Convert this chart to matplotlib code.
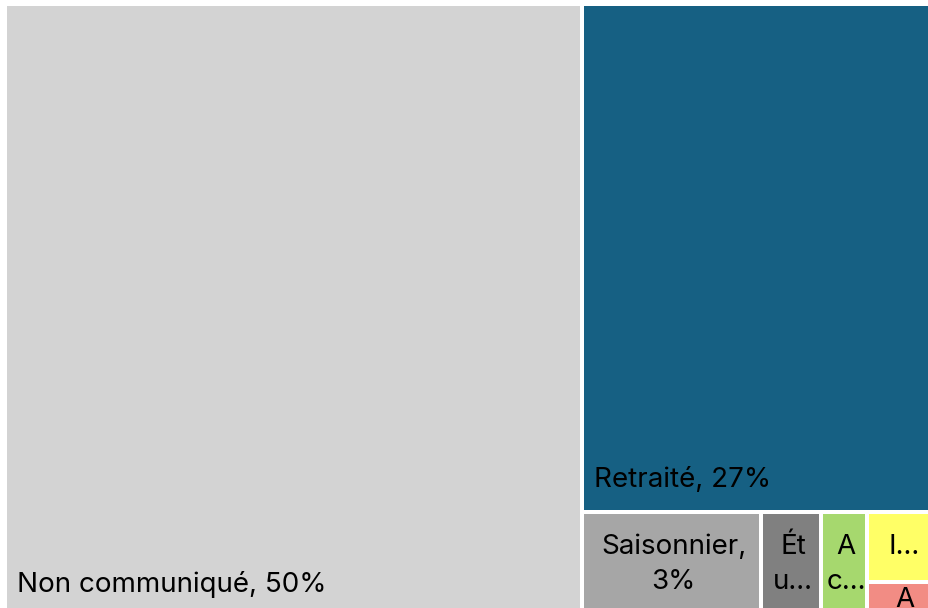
import matplotlib.pyplot as plt
from matplotlib.patches import Rectangle

# Treemap data (area weights, labels as shown)
categories = ["Non communiqué", "Retraité", "Saisonnier", "Étudiant", "Actif", "Inactif", "Autre"]
weights = [61.84, 31.62, 3.29, 1.10, 0.85, 0.87, 0.43]
labels = ["Non communiqué, 50%", "Retraité, 27%", "Saisonnier,\n3%", "Ét\nu...", "A\nc...", "I...", "A"]
colors = ["#D3D3D3", "#166083", "#A6A6A6", "#808080", "#A6D86E", "#FFFF66", "#F28C84"]

plt.rcParams['font.family'] = ['Inter', 'DejaVu Sans']


def strip_layout(values, x, y, w, h):
    # each item takes a full strip across the shorter side of what is left
    rects = []
    total = float(sum(values))
    for i, v in enumerate(values):
        if i == len(values) - 1:
            rects.append((x, y, w, h))
            break
        frac = v / total
        if w >= h:
            dw = w * frac
            rects.append((x, y, dw, h))
            x += dw
            w -= dw
        else:
            dh = h * frac
            rects.append((x, y, w, dh))
            y += dh
            h -= dh
        total -= v
    return rects


fig = plt.figure(figsize=(9.29, 6.08), dpi=100)
ax = fig.add_axes([0, 0, 1, 1])
ax.set_xlim(0, 929)
ax.set_ylim(608, 0)
ax.axis('off')

gap = 4 * 72 / 100  # 4 px white separators
rects = strip_layout(weights, 5, 4, 933, 613)

for (x, y, w, h), lab, col in zip(rects, labels, colors):
    ax.add_patch(Rectangle((x, y), w, h, facecolor=col, edgecolor='white', linewidth=gap))
    if w > 300:
        ax.text(x + 12, y + h - 25, lab, ha='left', va='baseline', fontsize=20, color='black')
    else:
        ax.text(x + w / 2 + 2, y + h / 2, lab, ha='center', va='center', multialignment='center',
                fontsize=20, color='black', linespacing=1.45, clip_on=True)

plt.savefig("out.png", dpi=100)
